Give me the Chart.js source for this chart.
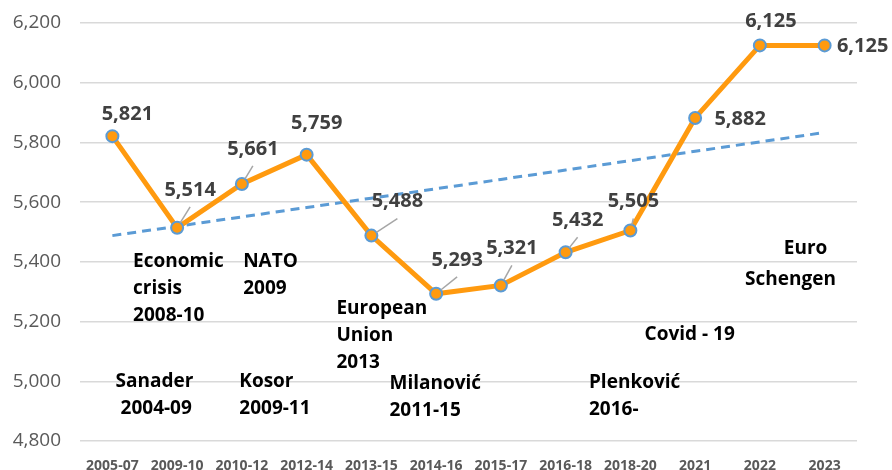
<!DOCTYPE html>
<html><head><meta charset="utf-8">
<script src="https://cdn.jsdelivr.net/npm/chart.js@4/dist/chart.umd.min.js"></script>
<style>html,body{margin:0;padding:0;background:#fff}#wrap{width:892px;height:470px;position:relative}</style>
</head><body><div id="wrap"><canvas id="c"></canvas></div>
<script>
// ---- data ----
const categories = ['2005-07','2009-10','2010-12','2012-14','2013-15','2014-16','2015-17','2016-18','2018-20','2021','2022','2023'];
const values = [5821, 5514, 5661, 5759, 5488, 5293, 5321, 5432, 5505, 5882, 6125, 6125];
const yMin = 4800, yMax = 6200, yStep = 200;

// event annotations: text lines, anchor (category index, value)
const annotationTexts = [
  ['Economic','crisis','2008-10'],
  ['NATO','2009'],
  ['European','Union','2013'],
  ['Sanader',' 2004-09'],
  ['Kosor','2009-11'],
  ['Milanović','2011-15'],
  ['Plenković','2016-'],
  ['Covid - 19'],
  ['Euro'],
  ['Schengen']
];
const annotationAnchors = [
  [0.32, 5400], [2.02, 5400], [3.46, 5245], [0.05, 5000], [1.96, 5000],
  [4.28, 4993], [7.36, 4995], [8.22, 5155], [10.37, 5443], [9.77, 5339]
];

// label offsets (px) relative to point, and whether a leader line is drawn
const labelOffsets = [[15,-22],[13,-38],[11,-35],[10,-31],[26,-34],[21,-34],[11,-37],[12,-32],[3,-29],[45,1],[11,-24],[38,1]];
const leaderFlags = [false,true,true,false,true,true,true,true,true,false,false,false];

// linear trendline (least squares from the data)
function trend(v){
  const n=v.length, mx=(n-1)/2, my=v.reduce((a,b)=>a+b,0)/n;
  let sxy=0,sxx=0; v.forEach((y,i)=>{sxy+=(i-mx)*(y-my);sxx+=(i-mx)*(i-mx);});
  const b=sxy/sxx, a=my-b*mx; return v.map((_,i)=>a+b*i);
}
const trendValues = trend(values);

const FONT = "'Open Sans', 'DejaVu Sans', sans-serif";

const labelPlugin = {
  id:'labels',
  afterDatasetsDraw(chart){
    const ctx=chart.ctx, meta=chart.getDatasetMeta(0);
    ctx.save();
    ctx.font = "bold 20px " + FONT;
    ctx.textAlign='center'; ctx.textBaseline='middle';
    meta.data.forEach((pt,i)=>{
      const [dx,dy]=labelOffsets[i];
      const cx=pt.x+dx, cy=pt.y+dy;
      if(leaderFlags[i]){
        const ex=cx, ey=cy+17;
        const ang=Math.atan2(ey-pt.y, ex-pt.x);
        ctx.strokeStyle='#A6A6A6'; ctx.lineWidth=1.5;
        ctx.beginPath(); ctx.moveTo(pt.x+Math.cos(ang)*6, pt.y+Math.sin(ang)*6); ctx.lineTo(ex,ey); ctx.stroke();
      }
      ctx.fillStyle='#404040';
      ctx.fillText(values[i].toLocaleString('en-US'), cx, cy);
    });
    ctx.restore();
  },
  afterDraw(chart){
    const ctx=chart.ctx, xs=chart.scales.x, ys=chart.scales.y;
    ctx.save();
    ctx.font="bold 19px " + FONT;
    ctx.fillStyle='#000'; ctx.textAlign='left'; ctx.textBaseline='middle';
    annotationTexts.forEach((lines,k)=>{
      const x=xs.getPixelForValue(annotationAnchors[k][0]);
      const y=ys.getPixelForValue(annotationAnchors[k][1]);
      lines.forEach((t,j)=>ctx.fillText(t, x, y+j*27));
    });
    ctx.restore();
  }
};

new Chart(document.getElementById('c'),{
  type:'line',
  data:{labels:categories, datasets:[
    {data:values, borderColor:'#FF9A0F', borderWidth:5, backgroundColor:'#FF9A0F',
     pointRadius:6, pointHoverRadius:6, pointBackgroundColor:'#FF9A0F', pointBorderColor:'#5B9BD5', pointBorderWidth:2, tension:0, order:0},
    {data:trendValues, borderColor:'#5B9BD5', borderWidth:3, borderDash:[9,6], pointRadius:0, fill:false, tension:0, order:1}
  ]},
  options:{
    responsive:true, maintainAspectRatio:false, animation:false,
    layout:{padding:{top:23,right:35,bottom:0,left:0}},
    plugins:{legend:{display:false}, tooltip:{enabled:false}},
    scales:{
      x:{offset:true, grid:{display:false}, border:{display:false},
         ticks:{color:'#595959', font:{family:FONT, size:14, weight:'bold'}, padding:9, maxRotation:0, autoSkip:false},
         afterFit(s){s.height=29; s.paddingLeft=0; s.paddingRight=0;}},
      y:{min:yMin, max:yMax, grid:{color:'#D9D9D9', lineWidth:1.5, drawTicks:false}, border:{display:false},
         ticks:{stepSize:yStep, color:'#595959', font:{family:FONT, size:19}, padding:19,
           callback:v=>v.toLocaleString('en-US')},
         afterFit(s){s.width=80; s.paddingTop=0; s.paddingBottom=0;}}
    }
  },
  plugins:[labelPlugin]
});
</script></body></html>
